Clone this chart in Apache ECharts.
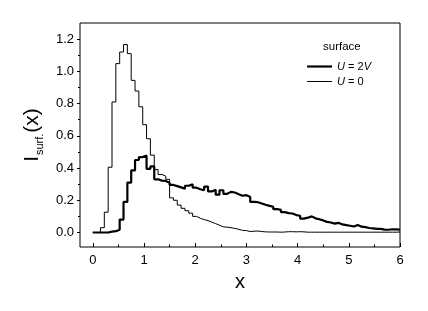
<!DOCTYPE html>
<html>
<head>
<meta charset="utf-8">
<script src="https://cdn.jsdelivr.net/npm/echarts@6/dist/echarts.min.js"></script>
<style>
  html, body { margin: 0; padding: 0; background: #fff; }
  #chart { width: 428px; height: 311px; }
</style>
</head>
<body>
<div id="chart"></div>
<script>
// histogram bins of width 0.075 from x = 0 to x = 6
const binWidth = 0.075
const binCount = 80

// U = 2V (thick line)
const thickValues = [
  0, 0, 0, 0, 0.005, 0.008, 0.017, 0.08, 0.19, 0.31,
  0.385, 0.45, 0.468, 0.478, 0.395, 0.41, 0.33, 0.322, 0.32, 0.308,
  0.295, 0.288, 0.28, 0.272, 0.29, 0.3, 0.278, 0.268, 0.262, 0.285,
  0.255, 0.265, 0.235, 0.262, 0.24, 0.252, 0.248, 0.238, 0.228, 0.232,
  0.22, 0.19, 0.188, 0.18, 0.172, 0.165, 0.16, 0.145, 0.14, 0.126,
  0.12, 0.118, 0.108, 0.104, 0.086, 0.092, 0.1, 0.088, 0.082, 0.075,
  0.066, 0.062, 0.055, 0.06, 0.05, 0.046, 0.042, 0.037, 0.046, 0.036,
  0.033, 0.028, 0.026, 0.023, 0.022, 0.018, 0.017, 0.02, 0.019, 0.018
]

// U = 0 (thin line)
const thinValues = [
  0, 0, 0.03, 0.126, 0.405, 0.81, 1.048, 1.12, 1.166, 1.11,
  0.944, 0.878, 0.78, 0.669, 0.582, 0.48, 0.39, 0.36, 0.35, 0.33,
  0.215, 0.2, 0.17, 0.15, 0.135, 0.12, 0.1, 0.088, 0.08, 0.074,
  0.064, 0.055, 0.045, 0.035, 0.033, 0.03, 0.025, 0.02, 0.013, 0.012,
  0.006, 0.008, 0.009, 0.006, 0.004, 0.003, 0.003, 0.003, 0.002, 0.003,
  0.005, 0.005, 0.004, 0.005, 0.004, 0.002, 0.002, 0.002, 0.002, 0.002,
  0.002, 0.002, 0.002, 0.002, 0.002, 0.002, 0.002, 0.002, 0.002, 0.002,
  0.002, 0.002, 0.002, 0.002, 0.002, 0.002, 0.002, 0.002, 0.002, 0.003
]

const xMajorTicks = [0, 1, 2, 3, 4, 5, 6]
const xMinorTicks = [0.5, 1.5, 2.5, 3.5, 4.5, 5.5]
const yMajorTicks = [0, 0.2, 0.4, 0.6, 0.8, 1.0, 1.2]
const yMinorTicks = [0.1, 0.3, 0.5, 0.7, 0.9, 1.1]

const seriesNames = ['U = 2V', 'U = 0']
const lineWidths = [2.2, 1]

// 把每个箱子的左边界和值配对，最后补一个右端点
function toSteps(values) {
  const pts = values.map((v, i) => [i * binWidth, v])
  pts.push([binCount * binWidth, values[values.length - 1]])
  return pts
}

const font = 'Liberation Sans, Arial, Helvetica, sans-serif'

const chart = echarts.init(document.getElementById('chart'))
const option = {
  animation: false,
  title: {
    text: 'surface',
    left: 318,
    top: 36,
    textStyle: { fontFamily: font, fontSize: 11.5, fontWeight: 'normal', color: '#000' }
  },
  legend: {
    orient: 'vertical',
    left: 301,
    top: 56,
    itemWidth: 25,
    itemHeight: 10,
    itemGap: 4,
    itemStyle: { opacity: 0 },
    data: seriesNames.map((n, i) => ({ name: n, lineStyle: { width: lineWidths[i], color: '#000' } })),
    formatter: (name) => name === 'U = 2V' ? '{i|U} = 2{i|V}' : '{i|U} = 0',
    textStyle: {
      fontFamily: font,
      fontSize: 11,
      color: '#000',
      rich: { i: { fontFamily: font, fontSize: 11, fontStyle: 'italic', color: '#000' } }
    }
  },
  grid: {
    left: 80,
    right: 28,
    top: 23,
    bottom: 64,
    show: true,
    borderColor: '#000',
    borderWidth: 1,
    backgroundColor: 'transparent'
  },
  xAxis: [
    {
      type: 'value',
      min: -0.25,
      max: 6,
      position: 'bottom',
      name: 'x',
      nameLocation: 'middle',
      nameGap: 25,
      nameTextStyle: { fontFamily: font, fontSize: 20, color: '#000' },
      axisLine: { show: false, onZero: false },
      splitLine: { show: false },
      axisTick: { inside: true, length: 4, customValues: xMajorTicks, lineStyle: { color: '#000' } },
      axisLabel: { customValues: xMajorTicks, fontFamily: font, fontSize: 13, color: '#000', margin: 7 }
    },
    {
      type: 'value',
      min: -0.25,
      max: 6,
      position: 'bottom',
      axisLine: { show: false, onZero: false },
      splitLine: { show: false },
      axisTick: { inside: true, length: 2.5, customValues: xMinorTicks, lineStyle: { color: '#000' } },
      axisLabel: { show: false }
    }
  ],
  yAxis: [
    {
      type: 'value',
      min: -0.09,
      max: 1.3,
      position: 'left',
      name: '{a|I}{b|surf.}{a|(x)}',
      nameLocation: 'middle',
      nameRotate: 90,
      nameGap: 34,
      nameTextStyle: {
        fontFamily: font,
        color: '#000',
        rich: {
          a: { fontFamily: font, fontSize: 21, color: '#000', lineHeight: 26, verticalAlign: 'middle' },
          b: { fontFamily: font, fontSize: 11, color: '#000', lineHeight: 26, verticalAlign: 'bottom', padding: [0, 1, 0, 1] }
        }
      },
      axisLine: { show: false, onZero: false },
      splitLine: { show: false },
      axisTick: { inside: false, length: 3, customValues: yMajorTicks, lineStyle: { color: '#000' } },
      axisLabel: {
        customValues: yMajorTicks,
        fontFamily: font,
        fontSize: 13,
        color: '#000',
        margin: 6,
        formatter: (v) => v.toFixed(1)
      }
    },
    {
      type: 'value',
      min: -0.09,
      max: 1.3,
      position: 'left',
      axisLine: { show: false, onZero: false },
      splitLine: { show: false },
      axisTick: { inside: false, length: 2, customValues: yMinorTicks, lineStyle: { color: '#000' } },
      axisLabel: { show: false }
    }
  ],
  series: [
    {
      name: seriesNames[0],
      type: 'line',
      step: 'end',
      symbol: 'none',
      data: toSteps(thickValues),
      lineStyle: { color: '#000', width: lineWidths[0] },
      itemStyle: { color: '#000' },
      z: 3
    },
    {
      name: seriesNames[1],
      type: 'line',
      step: 'end',
      symbol: 'none',
      data: toSteps(thinValues),
      lineStyle: { color: '#000', width: lineWidths[1] },
      itemStyle: { color: '#000' },
      z: 2
    }
  ]
}
chart.setOption(option)
</script>
</body>
</html>
